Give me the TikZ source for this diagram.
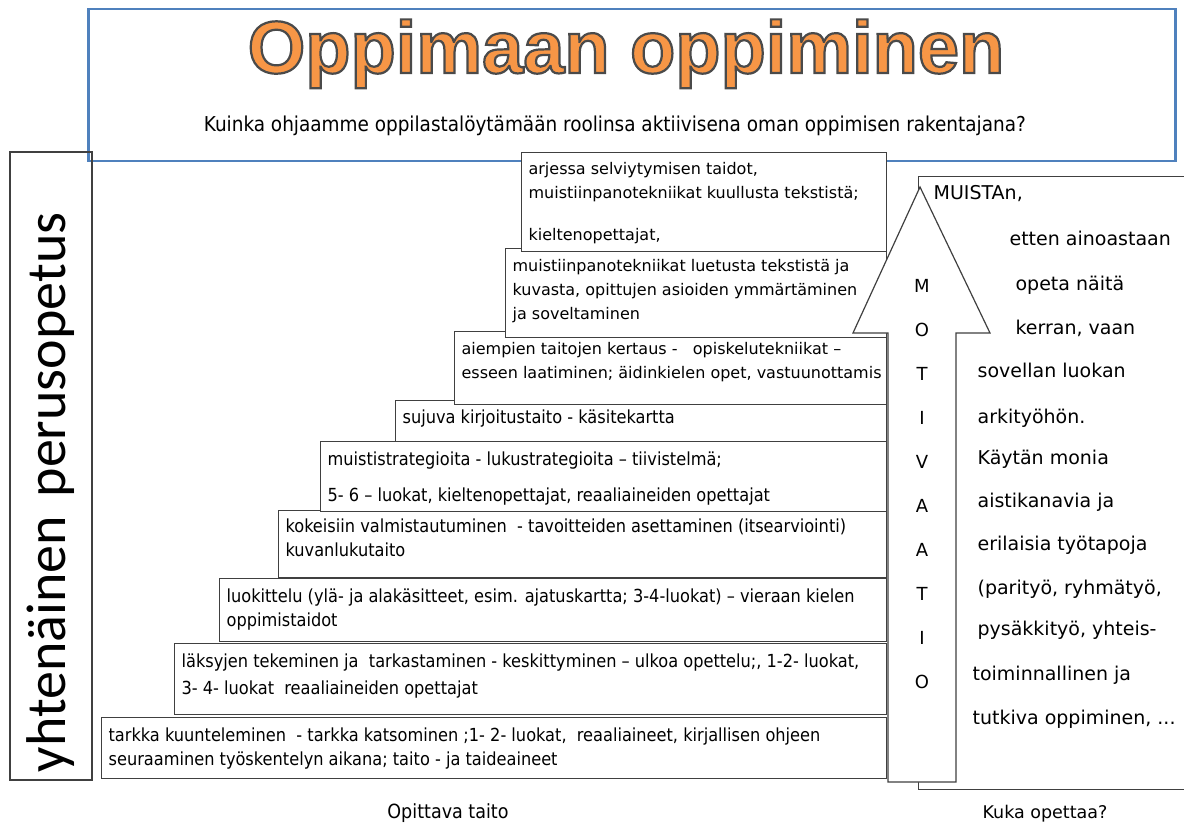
\documentclass[tikz,border=0pt]{standalone}
\usepackage{fontspec}
\setmainfont{DejaVu Sans}
\newfontfamily\condfont{DejaVu Sans Condensed}
\newfontfamily\headfont{Liberation Sans}[BoldFeatures={FakeBold=3}]
\newfontfamily\sidefont{Carlito}
\definecolor{frameblue}{HTML}{4F81BD}
\definecolor{titleorange}{HTML}{F79646}
\definecolor{boxgray}{HTML}{404040}
\begin{document}
\begin{tikzpicture}[x=1pt, y=-1pt, line width=1.2pt,
    stair box/.style={draw=boxgray, fill=white, anchor=north west, inner sep=0pt},
    stair text/.style={anchor=north west, align=left, inner xsep=7pt, inner ysep=10pt, font=\condfont\fontsize{18}{24}\selectfont},
    upper text/.style={stair text, inner ysep=11pt, font=\fontsize{16}{24}\selectfont},
    side text/.style={anchor=base west, inner sep=0pt, font=\fontsize{19}{22}\selectfont},
    letter/.style={anchor=base, inner sep=0pt, font=\fontsize{18}{20}\selectfont}]
    \useasboundingbox[fill=white] (0,0) rectangle (1184,824);

    % otsikkolaatikko
    \node[draw=frameblue, line width=2.5pt, anchor=north west, minimum width=1087, minimum height=152] at (87,8) (frame) {};
    \node[anchor=base, inner sep=0pt, font=\headfont\bfseries\fontsize{74}{80}\selectfont] at (626,73) (title) {\color{titleorange}\special{pdf:code 0.29 0.29 0.29 RG}Oppimaan oppiminen};
    \node[anchor=base, inner sep=0pt, font=\condfont\fontsize{20.5}{22}\selectfont] at (615,132) (question) {Kuinka ohjaamme oppilastalöytämään roolinsa aktiivisena oman oppimisen rakentajana?};

    % vasen laatikko
    \node[draw=boxgray, rotate=90, align=left, text width=612, inner xsep=8pt, minimum height=82, font=\sidefont\fontsize{56}{60}\selectfont] at (51,466) (side) {yhtenäinen perusopetus};

    % oikea laatikko
    \node[draw=boxgray, anchor=north west, minimum width=300, minimum height=613] at (918,176) (teach) {};
    \node[side text] at (933,200) (r1) {MUISTAn,};
    \node[side text] at (1009,245) (r2) {etten ainoastaan};
    \node[side text] at (1015,290) (r3) {opeta näitä};
    \node[side text] at (1015,334) (r4) {kerran, vaan};
    \node[side text] at (977,377) (r5) {sovellan luokan};
    \node[side text] at (977,423) (r6) {arkityöhön.};
    \node[side text] at (977,464) (r7) {Käytän monia};
    \node[side text] at (977,507) (r8) {aistikanavia ja};
    \node[side text] at (977,550) (r9) {erilaisia työtapoja};
    \node[side text] at (977,594) (r10) {(parityö, ryhmätyö,};
    \node[side text] at (977,635) (r11) {pysäkkityö, yhteis-};
    \node[side text] at (972,680) (r12) {toiminnallinen ja};
    \node[side text] at (972,724) (r13) {tutkiva oppiminen, ...};

    % portaat
    \node[stair box, minimum width=785, minimum height=61, label={[stair text]north west:{tarkka kuunteleminen\ \ - tarkka katsominen ;1- 2- luokat,\ \ reaaliaineet, kirjallisen ohjeen\\seuraaminen työskentelyn aikana; taito - ja taideaineet}}] at (101,717) (1) {};
    \node[stair box, minimum width=712, minimum height=71, label={[stair text]north west:{läksyjen tekeminen ja\ \ tarkastaminen - keskittyminen – ulkoa opettelu;, 1-2- luokat,\\[3pt]3- 4- luokat\ \ reaaliaineiden opettajat}}] at (174,643) (2) {};
    \node[stair box, minimum width=667, minimum height=63, label={[stair text]north west:{luokittelu (ylä- ja alakäsitteet, esim. ajatuskartta; 3-4-luokat) – vieraan kielen\\oppimistaidot}}] at (219,578) (3) {};
    \node[stair box, minimum width=608, minimum height=67, label={[stair text, inner ysep=8pt]north west:{kokeisiin valmistautuminen\ \ - tavoitteiden asettaminen (itsearviointi)\\kuvanlukutaito}}] at (278,510) (4) {};
    \node[stair box, minimum width=566, minimum height=70, label={[stair text]north west:{muististrategioita - lukustrategioita – tiivistelmä;\\[12pt]5- 6 – luokat, kieltenopettajat, reaaliaineiden opettajat}}] at (320,441) (5) {};
    \node[stair box, minimum width=491, minimum height=41, label={[stair text, inner ysep=9pt]north west:{sujuva kirjoitustaito - käsitekartta}}] at (395,400) (6) {};
    \node[stair box, minimum width=432, minimum height=73, label={[upper text]north west:{aiempien taitojen kertaus -\ \ \ opiskelutekniikat –\\esseen laatiminen; äidinkielen opet, vastuunottamis}}] at (454,331) (7) {};
    \node[stair box, minimum width=381, minimum height=89, label={[upper text]north west:{muistiinpanotekniikat luetusta tekstistä ja\\kuvasta, opittujen asioiden ymmärtäminen\\ja soveltaminen}}] at (505,248) (8) {};
    \node[stair box, minimum width=365, minimum height=99, label={[upper text, inner ysep=10pt]north west:{arjessa selviytymisen taidot,\\muistiinpanotekniikat kuullusta tekstistä;\\[18pt]kieltenopettajat,}}] at (521,152) (9) {};

    % nuoli
    \draw[draw=boxgray, fill=white] (888,782) -- (888,333) -- (853,333) -- (920,187) -- (990,333) -- (956,333) -- (956,782) -- cycle;
    \node[letter] at (922,292) (m1) {M};
    \node[letter] at (922,336) (m2) {O};
    \node[letter] at (922,380) (m3) {T};
    \node[letter] at (922,424) (m4) {I};
    \node[letter] at (922,468) (m5) {V};
    \node[letter] at (922,512) (m6) {A};
    \node[letter] at (922,556) (m7) {A};
    \node[letter] at (922,600) (m8) {T};
    \node[letter] at (922,644) (m9) {I};
    \node[letter] at (922,688) (m10) {O};

    % alaotsikot
    \node[anchor=base, inner sep=0pt, font=\condfont\fontsize{19.5}{22}\selectfont] at (448,818) (skill) {Opittava taito};
    \node[anchor=base, inner sep=0pt, font=\fontsize{17.5}{20}\selectfont] at (1045,818) (who) {Kuka opettaa?};

\end{tikzpicture}
\end{document}
